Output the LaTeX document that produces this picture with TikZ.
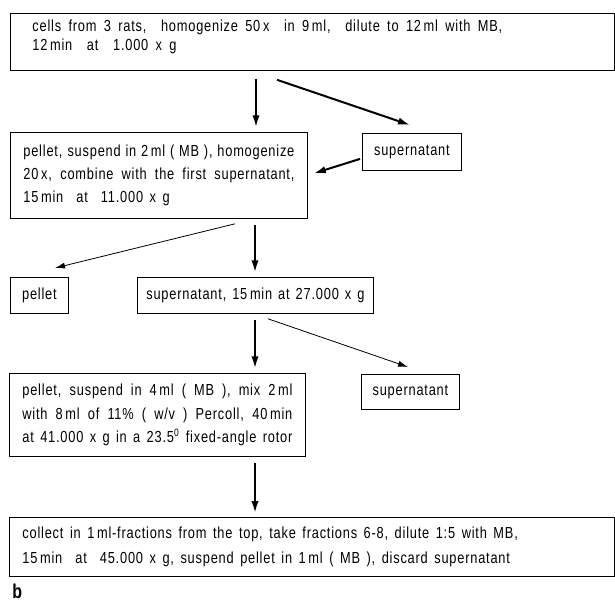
\documentclass[tikz,border=0pt]{standalone}
\usepackage{fontspec}
\setmainfont{Liberation Sans}[FakeStretch=0.8, LetterSpace=5, WordSpace=1.5]
\usetikzlibrary{arrows.meta,calc,positioning}

\newcommand{\nohyph}{\hyphenpenalty=10000\relax}
\newcommand{\wordgap}[1]{\spaceskip=#1\relax}

\tikzset{
  stepbox/.style={draw, line width=0.6pt, anchor=north west, inner ysep=0pt,
    font=\fontsize{12}{17.5}\selectfont\nohyph},
  textbox/.style={stepbox, align=left, inner xsep=9.75pt},
  fullbox/.style={stepbox, align=justify, inner xsep=9.75pt},
  wordbox/.style={stepbox, align=center, inner xsep=0pt},
  bigarrow/.style={-{Latex[length=9pt,width=5.5pt]}, line width=1.5pt},
  thinarrow/.style={-{Latex[length=7.5pt,width=4.5pt]}, line width=0.6pt},
}

\begin{document}
\begin{tikzpicture}[x=0.75pt,y=-0.75pt]
  \useasboundingbox (0,0) rectangle (615,601);

  % boxes of the fractionation scheme
  \node[textbox, inner xsep=16.5pt, text width=420pt, minimum width=453pt, minimum height=42.75pt,
    text depth=24pt, font=\fontsize{12}{14}\selectfont\nohyph] (cells) at (10,13)
    {\wordgap{5.5pt}cells from 3 rats,\ \ homogenize 50\,x\ \ in 9\,ml,\ \ dilute to 12\,ml with MB,\\ 12\,min\ \ at\ \ 1.000 x g};
  \node[fullbox, text width=203.25pt, minimum width=222.75pt, minimum height=64.5pt] (pelletA) at (10,132)
    {pellet, suspend in 2\,ml ( MB ), homogenize\linebreak 20\,x, combine with the first supernatant,\linebreak 15\,min\ \ at\ \ 11.000 x g};
  \node[wordbox, minimum width=74.25pt, minimum height=27.75pt] (superA) at (362,133) {supernatant};
  \node[wordbox, minimum width=43.5pt, minimum height=27pt] (pelletB) at (10,277) {pellet};
  \node[wordbox, minimum width=177pt, minimum height=27pt] (superB) at (137,277)
    {\wordgap{4.5pt}supernatant, 15\,min at 27.000 x g};
  \node[fullbox, text width=202.5pt, minimum width=222pt, minimum height=62.25pt] (pelletC) at (9,373)
    {pellet, suspend in 4\,ml ( MB ), mix 2\,ml\linebreak with 8\,ml of 11\% ( w/v ) Percoll, 40\,min\linebreak at 41.000 x g in a 23.5\textsuperscript{0} fixed-angle rotor};
  \node[wordbox, minimum width=73.5pt, minimum height=26.25pt] (superC) at (361,374) {supernatant};
  \node[textbox, text width=434.25pt, minimum width=453.75pt, minimum height=44.25pt,
    font=\fontsize{12}{18.5}\selectfont\nohyph] (collect) at (9,517)
    {\wordgap{4.9pt}collect in 1\,ml-fractions from the top, take fractions 6-8, dilute 1:5 with MB,\\ 15\,min\ \ at\ \ 45.000 x g, suspend pellet in 1\,ml ( MB ), discard supernatant};
  \node[anchor=north west, inner sep=0pt, font=\fontsize{15}{15}\selectfont\bfseries] (panel) at (12,584) {b};

  % arrows
  \coordinate (axis) at (256,0);
  \draw[bigarrow, shorten <=6pt, shorten >=3.5pt] (cells.south -| axis) -- (pelletA.north -| axis);
  \draw[bigarrow] ($(cells.south west)+(267,9)$) -- ($(superA.north west)+(48,-8)$);
  \draw[bigarrow] ($(superA.west)+(-2,7)$) -- ($(pelletA.east)+(6,-2)$);
  \draw[thinarrow] ($(pelletA.south west)+(225,5)$) -- ($(pelletB.north west)+(45,-9)$);
  \draw[bigarrow, shorten <=5pt, shorten >=3.5pt] ([xshift=-0.75pt]pelletA.south -| axis) -- ([xshift=-0.75pt]superB.north -| axis);
  \draw[bigarrow, shorten <=5pt, shorten >=3.5pt] ([xshift=-0.75pt]superB.south -| axis) -- ([xshift=-0.75pt]pelletC.north -| axis);
  \draw[thinarrow] ($(superB.south west)+(131,5)$) -- ($(superC.north west)+(47,-7)$);
  \draw[bigarrow, shorten <=4.5pt, shorten >=3pt] ([xshift=-0.75pt]pelletC.south -| axis) -- ([xshift=-0.75pt]collect.north -| axis);
\end{tikzpicture}
\end{document}
